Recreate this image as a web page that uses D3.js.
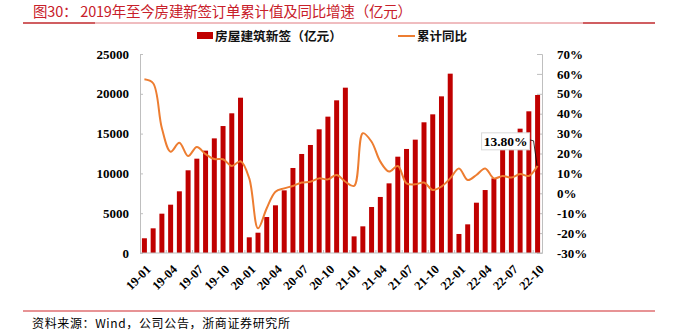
<!DOCTYPE html>
<html><head><meta charset="utf-8">
<script src="https://cdn.jsdelivr.net/npm/d3@7/dist/d3.min.js"></script>
<style>
html,body{margin:0;padding:0;background:#fff;}
svg{display:block;}
.num{font-family:"Times New Roman","Liberation Serif","DejaVu Serif",serif;font-weight:bold;}
.cjk{font-family:"Noto Sans CJK SC","Noto Sans CJK JP",sans-serif;}
</style></head>
<body>
<svg id="c" width="681" height="332"></svg>
<script>
const months = ["19-01","19-02","19-03","19-04","19-05","19-06","19-07","19-08","19-09","19-10","19-11","19-12",
"20-01","20-02","20-03","20-04","20-05","20-06","20-07","20-08","20-09","20-10","20-11","20-12",
"21-01","21-02","21-03","21-04","21-05","21-06","21-07","21-08","21-09","21-10","21-11","21-12",
"22-01","22-02","22-03","22-04","22-05","22-06","22-07","22-08","22-09","22-10"];
const newContracts = [1850,3100,4940,6070,7750,10390,11850,12860,14400,15950,17550,19510,
1970,2550,4520,5990,7870,10680,12440,13570,15540,17130,19180,20770,
2090,3350,5780,7040,8750,12100,13070,14240,16420,17420,19680,22530,
2390,3600,6320,7910,9380,13000,14200,15620,17800,19850];
const yoy = [57.3,55.3,32.7,20.9,25.4,18.7,23.3,19.7,17.2,17.1,13.7,16.1,
7.5,-17.6,-7.5,0.8,2.5,3.7,5.4,5.8,7.5,7.0,9.2,5.8,
3.7,30.2,25.9,15.9,10.9,13.7,5.0,4.5,5.4,1.7,3.4,7.5,
12.5,6.7,9.2,12.5,7.5,8.7,7.9,9.7,8.7,13.8];
const leftTicks = [0,5000,10000,15000,20000,25000];
const rightTicks = [-30,-20,-10,0,10,20,30,40,50,60,70];
const xLabels = months.filter((m,i)=>i%3===0);
const titleText = "图30：  2019年至今房建新签订单累计值及同比增速（亿元）";
const sourceText = "资料来源：Wind，公司公告，浙商证券研究所";
const barName = "房屋建筑新签（亿元）";
const lineName = "累计同比";
const lastLabel = "13.80%";

const svg = d3.select("#c");
const L=140, R=542, T=54, B=253;
const x = d3.scaleBand().domain(months).range([L,R]).paddingInner(0.43).paddingOuter(0.22);
const yL = d3.scaleLinear().domain([0,25000]).range([B,T]);
const yR = d3.scaleLinear().domain([-30,70]).range([B,T]);

// title
svg.append("text").attr("class","cjk").attr("x",33).attr("y",17).attr("fill","#c8202a")
  .attr("font-size",14.5).attr("textLength",379).attr("lengthAdjust","spacing").text(titleText);
svg.append("line").attr("x1",95).attr("x2",583).attr("y1",23).attr("y2",23).attr("stroke","#e07a80").attr("stroke-width",1);
svg.append("line").attr("x1",23).attr("x2",95).attr("y1",23).attr("y2",23).attr("stroke","#c0282d").attr("stroke-width",1.6);
svg.append("line").attr("x1",583).attr("x2",655).attr("y1",23).attr("y2",23).attr("stroke","#c0282d").attr("stroke-width",1.6);

// legend
svg.append("rect").attr("x",197).attr("y",32).attr("width",16).attr("height",7).attr("fill","#c00000");
svg.append("text").attr("class","cjk").attr("x",215).attr("y",40.5).attr("font-size",12.5).attr("font-weight",700)
  .attr("fill","#111").attr("textLength",127).attr("lengthAdjust","spacingAndGlyphs").text(barName);
svg.append("line").attr("x1",398).attr("x2",415).attr("y1",36).attr("y2",36).attr("stroke","#ed7d31").attr("stroke-width",2);
svg.append("text").attr("class","cjk").attr("x",417).attr("y",40.5).attr("font-size",12.5).attr("font-weight",700)
  .attr("fill","#111").attr("textLength",50).attr("lengthAdjust","spacingAndGlyphs").text(lineName);

// axes
const axL = svg.append("g").attr("transform",`translate(${L},0)`)
  .call(d3.axisLeft(yL).tickValues(leftTicks).tickSize(-3).tickPadding(11).tickFormat(d3.format("d")));
const axR = svg.append("g").attr("transform",`translate(${R},0)`)
  .call(d3.axisRight(yR).tickValues(rightTicks).tickSize(-5).tickPadding(15).tickFormat(d=>d+"%"));
[axL,axR].forEach(a=>{
  a.attr("font-family",null).attr("font-size",null);
  a.selectAll("path").attr("stroke","#bfbfbf");
  a.selectAll("line").attr("stroke","#bfbfbf");
  a.selectAll("text").attr("class","num").attr("font-size",13).attr("fill","#000");
});

// bars
svg.append("g").selectAll("rect").data(newContracts).join("rect")
  .attr("x",(d,i)=>x(months[i])).attr("width",x.bandwidth())
  .attr("y",d=>yL(d)).attr("height",d=>B-yL(d)).attr("fill","#c00000");

// x axis
svg.append("line").attr("x1",L).attr("x2",R).attr("y1",B).attr("y2",B).attr("stroke","#bfbfbf");
const step = x.step();
svg.append("g").selectAll("line").data(d3.range(3,46,3)).join("line")
  .attr("x1",i=>x(months[i])-step*x.paddingInner()/2).attr("x2",i=>x(months[i])-step*x.paddingInner()/2)
  .attr("y1",B).attr("y2",B-3).attr("stroke","#bfbfbf");
svg.append("g").selectAll("text").data(xLabels).join("text").attr("class","num")
  .attr("transform",d=>`translate(${x(d)+x.bandwidth()/2+1},${B+11}) rotate(-45)`)
  .attr("text-anchor","end").attr("dy","0.7em")
  .attr("font-size",12.5).attr("fill","#000").text(d=>d);

// line
const line = d3.line().x((d,i)=>x(months[i])+x.bandwidth()/2).y(d=>yR(d)).curve(d3.curveCatmullRom.alpha(0.5));
svg.append("path").attr("d",line(yoy)).attr("fill","none").attr("stroke","#ed7d31").attr("stroke-width",2);

// label
const li = yoy.length-1;
const px = x(months[li])+x.bandwidth()/2, py = yR(yoy[li]);
const bw=48, bh=17, bx=px-56, by=py-33;
svg.append("path").attr("d",`M${bx+bw},${by+7} L${bx+bw+4},${by+8} L${px-0.5},${py}`).attr("fill","none").attr("stroke","#000").attr("stroke-width",0.8);
svg.append("rect").attr("x",bx).attr("y",by).attr("width",bw).attr("height",bh).attr("fill","#fff").attr("stroke","#d9d9d9").attr("stroke-width",1);
svg.append("text").attr("class","num").attr("x",bx+bw/2).attr("y",by+bh/2).attr("dy","0.35em").attr("text-anchor","middle")
  .attr("font-size",13.5).attr("fill","#000").text(lastLabel);

// footer
svg.append("line").attr("x1",23).attr("x2",655).attr("y1",311).attr("y2",311).attr("stroke","#d0282d").attr("stroke-width",1.2);
svg.append("text").attr("class","cjk").attr("x",32).attr("y",328).attr("font-size",12).attr("fill","#000")
  .attr("textLength",258).attr("lengthAdjust","spacing").text(sourceText);
</script>
</body></html>
